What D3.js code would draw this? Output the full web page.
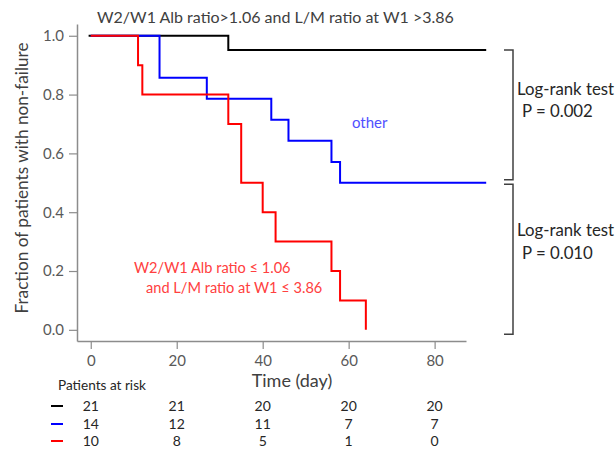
<!DOCTYPE html>
<html><head><meta charset="utf-8">
<script src="https://cdn.jsdelivr.net/npm/d3@7"></script>
<style>
body{margin:0;background:#fff;}
text{font-family:Lato, "Open Sans", sans-serif;}
</style></head>
<body><svg id="c" width="616" height="449"></svg>
<script>
// ---- data ----
const xTicks = [0, 20, 40, 60, 80];
const yTicks = [0, 0.2, 0.4, 0.6, 0.8, 1.0];
const blackTimes = [-0.5, 32, 92];
const blackSurv  = [1.0, 0.952, 0.952];
const blueTimes  = [0, 16, 27, 42, 46, 56, 58, 92];
const blueSurv   = [1.0, 0.857, 0.786, 0.714, 0.643, 0.571, 0.5, 0.5];
const redTimes   = [0, 11, 12, 32, 35, 40, 43, 56, 58, 64];
const redSurv    = [1.0, 0.9, 0.8, 0.7, 0.5, 0.4, 0.3, 0.2, 0.1, 0.0];
const riskBlack  = [21, 21, 20, 20, 20];
const riskBlue   = [14, 12, 11, 7, 7];
const riskRed    = [10, 8, 5, 1, 0];
const seriesColors = ["#000000", "#0000ff", "#ff0000"];

const svg = d3.select("#c");
const x = d3.scaleLinear().domain([-3.2, 87.3]).range([77, 466]);
const y = d3.scaleLinear().domain([-0.038, 1.04]).range([341, 24]);
const axisCol = "#8c8c8c", tickTxt = "#595959";

// axes
const gx = svg.append("g").attr("transform", "translate(0,341)")
  .call(d3.axisBottom(x).tickValues(xTicks).tickSize(8).tickSizeOuter(0).tickPadding(6).tickFormat(d3.format("d")));
const gy = svg.append("g").attr("transform", "translate(77,0)")
  .call(d3.axisLeft(y).tickValues(yTicks).tickSize(8).tickSizeOuter(0).tickPadding(5).tickFormat(d3.format(".1f")));
[gx, gy].forEach(g => {
  g.select(".domain").attr("stroke", axisCol).attr("stroke-width", 1.5);
  g.selectAll(".tick line").attr("stroke", axisCol).attr("stroke-width", 1.2);
  g.selectAll(".tick text").attr("fill", tickTxt).style("font-size", "15px").style("font-family", "Lato, sans-serif");
});

// curves
const line = d3.line().curve(d3.curveStepAfter).x(d => x(d[0])).y(d => y(d[1]));
const series = [
  [blackTimes, blackSurv], [blueTimes, blueSurv], [redTimes, redSurv]
];
series.forEach((s, i) => {
  const pts = s[0].map((t, j) => [t, s[1][j]]);
  svg.append("path").datum(pts).attr("d", line)
    .attr("fill", "none").attr("stroke", seriesColors[i]).attr("stroke-width", 2);
});

// title & annotations
svg.append("text").attr("x", 97).attr("y", 23).attr("fill", "#404040").style("font-size", "16px")
  .text("W2/W1 Alb ratio>1.06 and L/M ratio at W1 >3.86");
svg.append("text").attr("x", 352).attr("y", 128).attr("fill", "#5050ff").style("font-size", "15px").text("other");
svg.append("text").attr("x", 134).attr("y", 273).attr("fill", "#ff4040").style("font-size", "14.6px").text("W2/W1 Alb ratio ≤ 1.06");
svg.append("text").attr("x", 146).attr("y", 293).attr("fill", "#ff4040").style("font-size", "14.6px").text("and L/M ratio at W1 ≤ 3.86");

// y label
svg.append("text").attr("transform", "translate(28,178) rotate(-90)").attr("text-anchor", "middle")
  .attr("fill", "#404040").style("font-size", "17.2px").text("Fraction of patients with non-failure");
// x label
svg.append("text").attr("x", 292).attr("y", 387).attr("text-anchor", "middle")
  .attr("fill", "#404040").style("font-size", "18px").text("Time (day)");

// brackets
const bracket = (v0, v1) => {
  const bx = 513, w = 9;
  svg.append("path").attr("d", `M${bx - w},${y(v0)}H${bx}V${y(v1)}H${bx - w}`)
    .attr("fill", "none").attr("stroke", "#404040").attr("stroke-width", 1.5);
};
bracket(0.952, 0.51);
bracket(0.495, -0.015);
[["Log-rank test", 517, 95], ["P = 0.002", 522, 117], ["Log-rank test", 517, 236], ["P = 0.010", 522, 259]]
  .forEach(d => svg.append("text").attr("x", d[1]).attr("y", d[2]).attr("fill", "#262626").style("font-size", "16.8px").text(d[0]));

// risk table
svg.append("text").attr("x", 58).attr("y", 390).attr("fill", "#262626").style("font-size", "13.6px").text("Patients at risk");
const risks = [riskBlack, riskBlue, riskRed];
const rowY = [406, 424, 441];
risks.forEach((r, i) => {
  svg.append("line").attr("x1", 51).attr("x2", 63).attr("y1", rowY[i]).attr("y2", rowY[i])
    .attr("stroke", seriesColors[i]).attr("stroke-width", 2);
  svg.selectAll(null).data(r).enter().append("text")
    .attr("x", (d, j) => x(xTicks[j])).attr("y", rowY[i] + 5).attr("text-anchor", "middle")
    .attr("fill", "#262626").style("font-size", "14px").text(d => d);
});
</script></body></html>
